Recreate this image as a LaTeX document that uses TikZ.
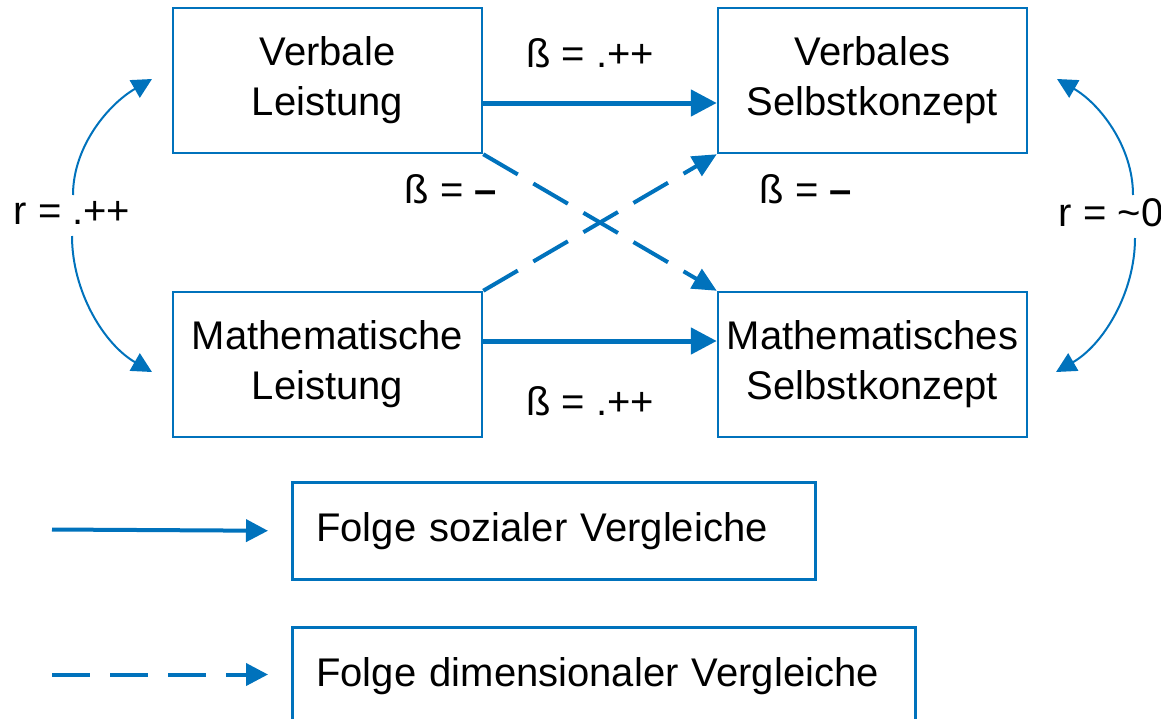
\documentclass[tikz,border=0pt]{standalone}
\usepackage{fontspec}
\setmainfont{Liberation Sans}
\usetikzlibrary{arrows.meta}
\definecolor{dblue}{RGB}{0,114,188}
\begin{document}
\begin{tikzpicture}[x=1pt,y=-1pt,
  box/.style={draw=dblue, line width=2.5pt, minimum width=309pt, minimum height=145pt,
    align=center, inner sep=0pt, font=\fontsize{40}{50}\selectfont},
  legbox/.style={draw=dblue, line width=2.5pt, minimum height=97pt, anchor=north west,
    align=left, inner xsep=24pt, inner ysep=0pt, font=\fontsize{40}{50}\selectfont},
  lab/.style={inner sep=1pt, font=\fontsize{40}{48}\selectfont},
  mainarrow/.style={draw=dblue, line width=5pt, -{Triangle[length=26pt,width=26pt]}},
  dasharrow/.style={draw=dblue, line width=4pt, dash pattern=on 40pt off 18pt,
    -{Triangle[length=24pt,width=22pt]}},
  curvearrow/.style={draw=dblue, line width=2pt, -{Triangle[length=20pt,width=20pt]}},
  legarrow/.style={draw=dblue, line width=4pt, -{Triangle[length=22pt,width=22pt]}}
]
\useasboundingbox (0,0) rectangle (1161,718);

% main boxes
\node[box] (VL) at (327.5,80.5) {Verbale\\Leistung};
\node[box] (VS) at (872.5,80.5) {Verbales\\Selbstkonzept};
\node[box] (ML) at (327.5,364.5) {Mathematische\\Leistung};
\node[box] (MS) at (872.5,364.5) {Mathematisches\\Selbstkonzept};

% legend boxes
\node[legbox, text width=475pt] (L1) at (291,481) {Folge sozialer Vergleiche};
\node[legbox, text width=575pt] (L2) at (291,626) {Folge dimensionaler Vergleiche};

% labels
\node[lab] (b1) at (590,53) {ß = .++};
\node[lab] (b2) at (590,401) {ß = .++};
\node[lab] (b3) at (451,189) {ß = {\bfseries –}};
\node[lab] (b4) at (806,189) {ß = {\bfseries –}};
\node[lab] (r1) at (72,213) {r = .++};
\node[lab] (r2) at (1111,213) {r = \textasciitilde0};

% connectors
\draw[mainarrow] ([yshift=-22.5pt]VL.east) -- ([yshift=-22.5pt]VS.west);
\draw[mainarrow] ([yshift=23.5pt]ML.east) -- ([yshift=23.5pt]MS.west);
\draw[dasharrow] (VL.south east) -- (MS.north west);
\draw[dasharrow] (ML.north east) -- (VS.south west);

% correlation curves
\coordinate (ls1) at (73,195);
\coordinate (lt1) at (152,79);
\coordinate (ls2) at (72,236);
\coordinate (lt2) at (152,372);
\coordinate (rs1) at (1133,195);
\coordinate (rt1) at (1057,79);
\coordinate (rs2) at (1135,238);
\coordinate (rt2) at (1056,372);
\draw[curvearrow] (ls1) to[out=90,in=210,looseness=0.9] (lt1);
\draw[curvearrow] (ls2) to[out=-90,in=150,looseness=0.9] (lt2);
\draw[curvearrow] (rs1) to[out=90,in=-30,looseness=0.9] (rt1);
\draw[curvearrow] (rs2) to[out=-90,in=30,looseness=0.9] (rt2);

% legend arrows
\coordinate (la1) at (52,529.5);
\coordinate (la2) at (52,674.5);
\draw[legarrow] (la1) -- ([xshift=-23pt]L1.west);
\draw[legarrow, dash pattern=on 38pt off 20pt] (la2) -- ([xshift=-23pt]L2.west |- la2);
\end{tikzpicture}
\end{document}
